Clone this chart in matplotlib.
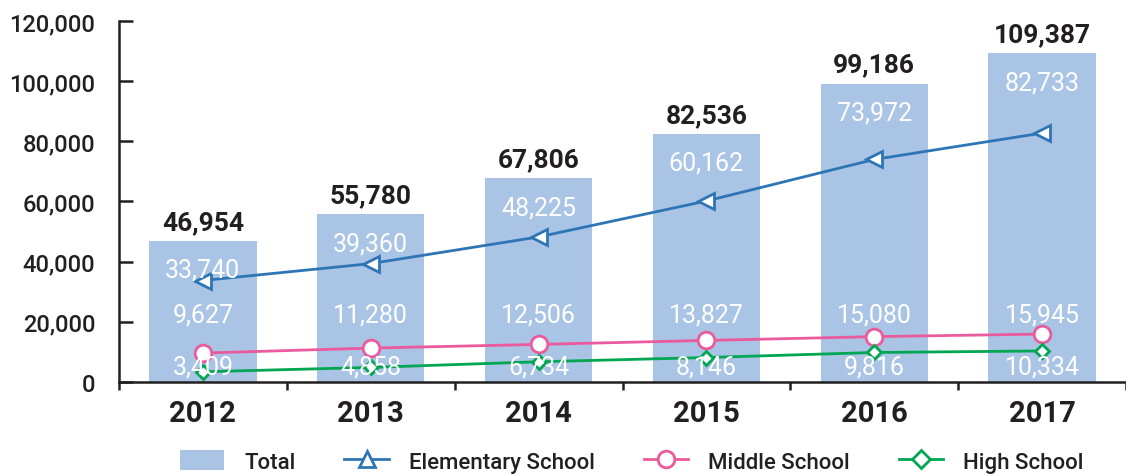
import matplotlib
matplotlib.use("Agg")
import matplotlib.pyplot as plt
from matplotlib.lines import Line2D
from matplotlib.patches import Patch

years = ["2012", "2013", "2014", "2015", "2016", "2017"]
total = [46954, 55780, 67806, 82536, 99186, 109387]
elementary = [33740, 39360, 48225, 60162, 73972, 82733]
middle = [9627, 11280, 12506, 13827, 15080, 15945]
high = [3409, 4858, 6734, 8146, 9816, 10334]

BAR = "#a9c4e4"
BLUE = "#2e75b6"
PINK = "#eb5a9d"
GREEN = "#00a651"
DARK = "#231f20"

plt.rcParams["font.family"] = ["Roboto", "DejaVu Sans"]

fig = plt.figure(figsize=(11.26, 4.77), dpi=100)
ax = fig.add_axes([0.1057, 0.197, 0.8943, 0.757])

x = list(range(len(years)))
ax.bar(x, total, width=0.64, color=BAR, zorder=1)
ax.plot(x, elementary, color=BLUE, lw=2, marker="<", ms=11, mfc="white",
        mec=BLUE, mew=2, zorder=2)
ax.plot(x, middle, color=PINK, lw=2, marker="o", ms=12, mfc="white",
        mec=PINK, mew=2, zorder=2)
ax.plot(x, high, color=GREEN, lw=2, marker="D", ms=7, mfc="white",
        mec=GREEN, mew=2, zorder=2)

for i in x:
    ax.annotate(f"{total[i]:,}", (i, total[i]), xytext=(0, 5), textcoords="offset points",
                ha="center", va="bottom", fontsize=19, fontweight="bold", color=DARK,
                annotation_clip=False, zorder=4)
    ax.annotate(f"{elementary[i]:,}", (i, total[i]), xytext=(0, -21), textcoords="offset points",
                ha="center", va="center", fontsize=18, color="white", zorder=4)
    ax.text(i, 22300, f"{middle[i]:,}", ha="center", va="center", fontsize=18,
            color="white", zorder=4)
    ax.text(i, 5000, f"{high[i]:,}", ha="center", va="center", fontsize=18,
            color="white", zorder=4)

ax.set_xlim(-0.5, 5.5)
ax.set_ylim(0, 120000)
ax.set_yticks(range(0, 120001, 20000))
ax.set_yticklabels([f"{v:,}" for v in range(0, 120001, 20000)], fontweight="medium")
ax.set_xticks(x)
ax.set_xticklabels(years, fontweight="bold")
ax.set_xticks([i - 0.5 for i in range(len(years) + 1)], minor=True)

for s in ["top", "right"]:
    ax.spines[s].set_visible(False)
for s in ["left", "bottom"]:
    ax.spines[s].set_color(DARK)
    ax.spines[s].set_linewidth(1.8)

ax.tick_params(axis="y", direction="in", length=10, width=1.8, color=DARK,
               labelsize=17, pad=17, labelcolor=DARK)
ax.tick_params(axis="x", which="major", length=0, labelsize=21, pad=12, labelcolor=DARK)
ax.tick_params(axis="x", which="minor", direction="out", length=6, width=1.8, color=DARK)

handles = [
    Patch(facecolor=BAR, edgecolor="none"),
    Line2D([], [], color=BLUE, lw=2, marker="^", ms=11, mfc="white", mec=BLUE, mew=2),
    Line2D([], [], color=PINK, lw=2, marker="o", ms=12, mfc="white", mec=PINK, mew=2),
    Line2D([], [], color=GREEN, lw=2, marker="D", ms=9, mfc="white", mec=GREEN, mew=2),
]
labels = ["Total", "Elementary School", "Middle School", "High School"]
fig.legend(handles, labels, loc="center", bbox_to_anchor=(0.561, 0.03), ncol=4,
           frameon=False, prop={"size": 16, "weight": "medium"}, handlelength=2.0,
           handleheight=1.0, handletextpad=0.9, columnspacing=2.2, labelcolor=DARK)

fig.savefig("out.png", dpi=100)
